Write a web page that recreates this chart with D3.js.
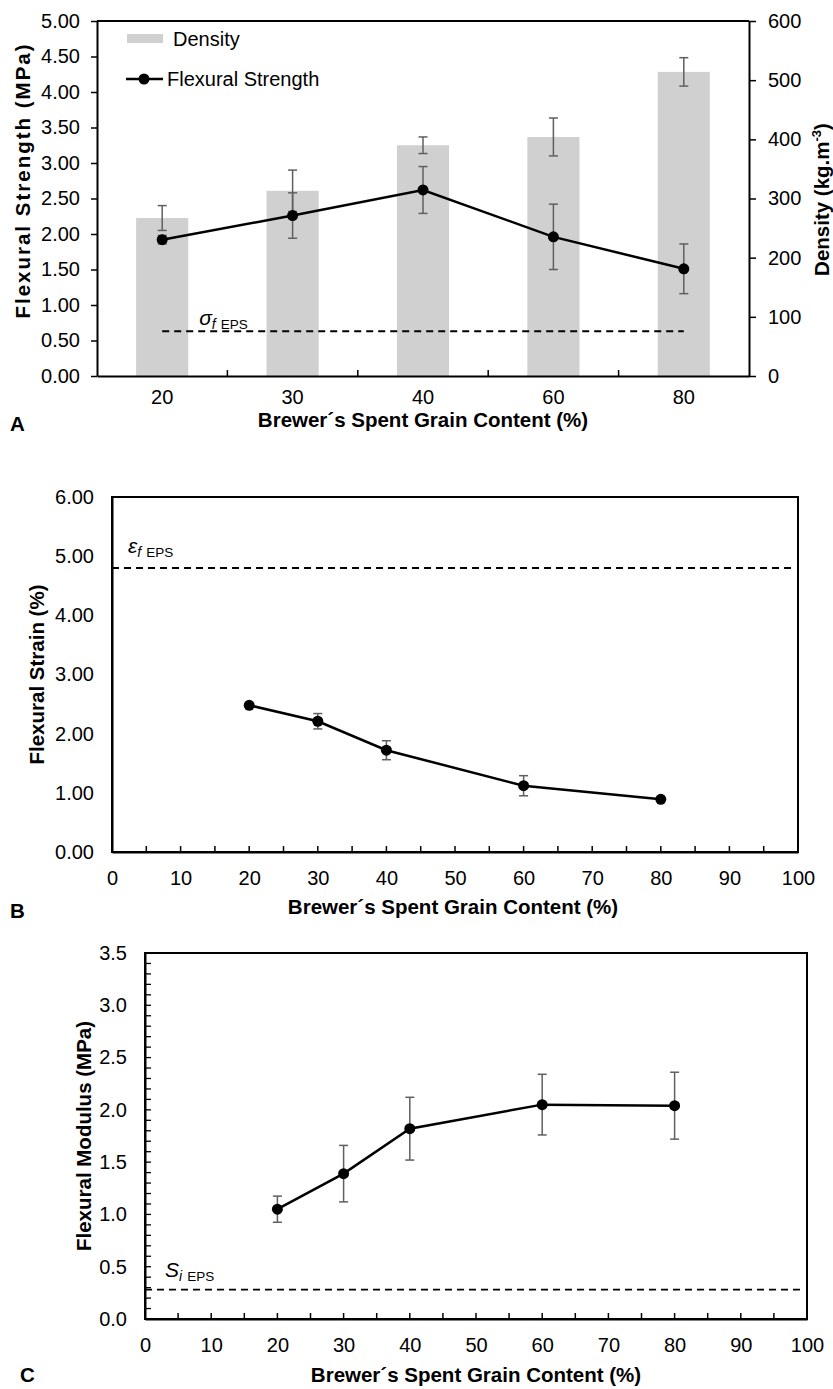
<!DOCTYPE html>
<html>
<head>
<meta charset="utf-8">
<script src="https://cdn.jsdelivr.net/npm/d3@7"></script>
<style>
  body { margin: 0; background: #fff; }
  svg { display: block; font-family: Arial, "Liberation Sans", sans-serif; }
  .axis path, .axis line { stroke: #000; }
  .axis text { fill: #000; font-size: 20px; font-family: Arial, "Liberation Sans", sans-serif; }
  .title { font-weight: bold; font-size: 20.5px; fill: #000; }
</style>
</head>
<body>
<svg id="fig" width="833" height="1389"></svg>
<script>
// panel A data
const categoriesA = ['20', '30', '40', '60', '80']
const densityA = [267, 313, 390, 404, 514]
const densityErrA = [21, 35, 14, 32, 24]
const strengthA = [1.92, 2.26, 2.62, 1.96, 1.51]
const strengthErrA = [0.06, 0.32, 0.33, 0.46, 0.35]
const sigmaEpsA = 0.63
const ticksLeftA = [0, 0.5, 1, 1.5, 2, 2.5, 3, 3.5, 4, 4.5, 5]
const ticksRightA = [0, 100, 200, 300, 400, 500, 600]

// panel B and C data
const contentBC = [20, 30, 40, 60, 80]
const strainB = [2.48, 2.21, 1.72, 1.12, 0.89]
const strainErrB = [0.03, 0.13, 0.16, 0.17, 0.03]
const epsEpsB = 4.80
const ticksYB = [0, 1, 2, 3, 4, 5, 6]
const modulusC = [1.05, 1.39, 1.82, 2.05, 2.04]
const modulusErrC = [0.125, 0.27, 0.30, 0.29, 0.32]
const siEpsC = 0.28
const ticksYC = [0, 0.5, 1, 1.5, 2, 2.5, 3, 3.5]
const ticksX = [0, 10, 20, 30, 40, 50, 60, 70, 80, 90, 100]

const svg = d3.select('#fig')
const ERR = '#5f5f5f'
const CAP = 4.5

function errorBars(g, xs, ys, errs, y) {
  xs.forEach((x, i) => {
    const lo = y(ys[i] - errs[i]), hi = y(ys[i] + errs[i])
    g.append('line').attr('x1', x).attr('x2', x).attr('y1', lo).attr('y2', hi)
      .attr('stroke', ERR).attr('stroke-width', 1.5)
    ;[lo, hi].forEach(v => g.append('line')
      .attr('x1', x - CAP).attr('x2', x + CAP).attr('y1', v).attr('y2', v)
      .attr('stroke', ERR).attr('stroke-width', 1.5))
  })
}

function seriesLine(g, xs, ys, y) {
  const pts = xs.map((x, i) => [x, y(ys[i])])
  g.append('path').attr('d', d3.line()(pts))
    .attr('fill', 'none').attr('stroke', '#000').attr('stroke-width', 2.5)
  g.selectAll(null).data(pts).enter().append('circle')
    .attr('cx', d => d[0]).attr('cy', d => d[1]).attr('r', 5.5).attr('fill', '#000')
}

function epsLabel(g, x, y, main, sub, font) {
  const t = g.append('text').attr('x', x).attr('y', y).attr('fill', '#000')
  t.append('tspan').text(main).attr('font-style', 'italic').attr('font-size', font)
  t.append('tspan').text(sub).attr('font-style', 'italic').attr('font-size', 14).attr('dy', 4)
  t.append('tspan').text('EPS').attr('font-size', 13.5).attr('dx', 5)
}

function dashed(g, x1, x2, yv) {
  g.append('line').attr('x1', x1).attr('x2', x2).attr('y1', yv).attr('y2', yv)
    .attr('stroke', '#000').attr('stroke-width', 1.8).attr('stroke-dasharray', '7,5')
}

function xLabelsBaseline(axisG, dist) {
  axisG.selectAll('text').attr('y', dist).attr('dy', 0)
}

// ---------------- Panel A ----------------
;(function() {
  const L = 97, R = 749, T = 21, B = 376
  const g = svg.append('g')
  const x = d3.scaleBand().domain(categoriesA).range([L, R])
  const yL = d3.scaleLinear().domain([0, 5]).range([B, T])
  const yR = d3.scaleLinear().domain([0, 600]).range([B, T])
  const barW = x.bandwidth() * 0.4
  const cx = categoriesA.map(c => x(c) + x.bandwidth() / 2)

  g.selectAll('rect.bar').data(densityA).enter().append('rect')
    .attr('class', 'bar')
    .attr('x', (d, i) => cx[i] - barW / 2).attr('width', barW)
    .attr('y', d => yR(d)).attr('height', d => B - yR(d))
    .attr('fill', '#d0d0d0')

  errorBars(g, cx, densityA, densityErrA, yR)
  dashed(g, cx[0], cx[cx.length - 1], yL(sigmaEpsA))
  errorBars(g, cx, strengthA, strengthErrA, yL)
  seriesLine(g, cx, strengthA, yL)

  // category boundary ticks
  g.selectAll('line.bt').data(categoriesA.slice(1)).enter().append('line')
    .attr('x1', d => x(d)).attr('x2', d => x(d)).attr('y1', B).attr('y2', B - 6)
    .attr('stroke', '#000').attr('stroke-width', 1.5)

  g.append('line').attr('x1', L).attr('x2', R).attr('y1', T).attr('y2', T)
    .attr('stroke', '#000').attr('stroke-width', 2)

  const ax = g.append('g').attr('class', 'axis').attr('transform', `translate(0,${B})`)
    .call(d3.axisBottom(x).tickSize(0).tickSizeOuter(0))
  ax.select('.domain').attr('stroke-width', 2)
  xLabelsBaseline(ax, 28)

  const al = g.append('g').attr('class', 'axis').attr('transform', `translate(${L},0)`)
    .call(d3.axisLeft(yL).tickValues(ticksLeftA).tickFormat(d3.format('.2f'))
      .tickSize(6).tickSizeOuter(0).tickPadding(11))
  al.select('.domain').attr('stroke-width', 2)
  al.selectAll('line').attr('stroke-width', 1.5)

  const ar = g.append('g').attr('class', 'axis').attr('transform', `translate(${R},0)`)
    .call(d3.axisRight(yR).tickValues(ticksRightA).tickFormat(d3.format('d'))
      .tickSize(7).tickSizeOuter(0).tickPadding(12))
  ar.select('.domain').attr('stroke-width', 2)
  ar.selectAll('line').attr('stroke-width', 1.5)

  epsLabel(g, cx[0] + 37, yL(sigmaEpsA) - 6, 'σ', 'f', 21)

  // legend
  g.append('rect').attr('x', L + 30).attr('y', 34).attr('width', 36).attr('height', 9).attr('fill', '#d0d0d0')
  g.append('text').attr('x', L + 76).attr('y', 46).attr('font-size', 20).text('Density')
  g.append('line').attr('x1', L + 29).attr('x2', L + 66).attr('y1', 79).attr('y2', 79)
    .attr('stroke', '#000').attr('stroke-width', 2.5)
  g.append('circle').attr('cx', L + 47).attr('cy', 79).attr('r', 5.5).attr('fill', '#000')
  g.append('text').attr('x', L + 70).attr('y', 86).attr('font-size', 20).text('Flexural Strength')

  g.append('text').attr('class', 'title').attr('text-anchor', 'middle')
    .attr('letter-spacing', 2)
    .attr('transform', `translate(30,${(T + B) / 2 - 18}) rotate(-90)`)
    .text('Flexural Strength (MPa)')
  const dt = g.append('text').attr('class', 'title').attr('text-anchor', 'middle')
    .attr('transform', `translate(829,${(T + B) / 2 + 1}) rotate(-90)`)
  dt.append('tspan').text('Density (kg.m')
  dt.append('tspan').text('-3').attr('font-size', 13).attr('dy', -8)
  dt.append('tspan').text(')').attr('dy', 8)

  g.append('text').attr('class', 'title').attr('text-anchor', 'middle')
    .attr('x', (L + R) / 2).attr('y', 427).text('Brewer´s Spent Grain Content (%)')
  g.append('text').attr('class', 'title').attr('x', 10).attr('y', 431).text('A')
})()

// ---------------- Panel B ----------------
;(function() {
  const L = 112, R = 798, T = 497, B = 852
  const g = svg.append('g')
  const x = d3.scaleLinear().domain([0, 100]).range([L, R])
  const y = d3.scaleLinear().domain([0, 6]).range([B, T])
  const xs = contentBC.map(d => x(d))

  g.append('rect').attr('x', L).attr('y', T).attr('width', R - L).attr('height', B - T)
    .attr('fill', 'none').attr('stroke', '#000').attr('stroke-width', 2)

  dashed(g, x(0), x(99.2), y(epsEpsB))
  errorBars(g, xs, strainB, strainErrB, y)
  seriesLine(g, xs, strainB, y)

  const ax = g.append('g').attr('class', 'axis').attr('transform', `translate(0,${B})`)
    .call(d3.axisBottom(x).tickValues(ticksX).tickSize(0).tickSizeOuter(0))
  ax.select('.domain').attr('stroke-width', 2)
  xLabelsBaseline(ax, 33)
  g.selectAll('line.mt').data(d3.range(5, 100, 5)).enter().append('line')
    .attr('x1', d => x(d)).attr('x2', d => x(d)).attr('y1', B).attr('y2', B - 6)
    .attr('stroke', '#000').attr('stroke-width', 1.5)

  const ay = g.append('g').attr('class', 'axis').attr('transform', `translate(${L},0)`)
    .call(d3.axisLeft(y).tickValues(ticksYB).tickFormat(d3.format('.2f'))
      .tickSize(0).tickSizeOuter(0).tickPadding(18))
  ay.select('.domain').attr('stroke-width', 2)

  epsLabel(g, x(0) + 16, y(epsEpsB) - 15, 'ε', 'f', 21)

  g.append('text').attr('class', 'title').attr('text-anchor', 'middle')
    .attr('transform', `translate(44,${(T + B) / 2}) rotate(-90)`)
    .text('Flexural Strain (%)')
  g.append('text').attr('class', 'title').attr('text-anchor', 'middle')
    .attr('x', 453).attr('y', 914).text('Brewer´s Spent Grain Content (%)')
  g.append('text').attr('class', 'title').attr('x', 10).attr('y', 918).text('B')
})()

// ---------------- Panel C ----------------
;(function() {
  const L = 145, R = 807, T = 953, B = 1319
  const g = svg.append('g')
  const x = d3.scaleLinear().domain([0, 100]).range([L, R])
  const y = d3.scaleLinear().domain([0, 3.5]).range([B, T])
  const xs = contentBC.map(d => x(d))

  g.append('rect').attr('x', L).attr('y', T).attr('width', R - L).attr('height', B - T)
    .attr('fill', 'none').attr('stroke', '#000').attr('stroke-width', 2)

  dashed(g, x(0), x(99.5), y(siEpsC))
  errorBars(g, xs, modulusC, modulusErrC, y)
  seriesLine(g, xs, modulusC, y)

  const ax = g.append('g').attr('class', 'axis').attr('transform', `translate(0,${B})`)
    .call(d3.axisBottom(x).tickValues(ticksX).tickSize(0).tickSizeOuter(0))
  ax.select('.domain').attr('stroke-width', 2)
  xLabelsBaseline(ax, 33)
  g.selectAll('line.mt').data(d3.range(5, 100, 5)).enter().append('line')
    .attr('x1', d => x(d)).attr('x2', d => x(d)).attr('y1', B).attr('y2', B - 6)
    .attr('stroke', '#000').attr('stroke-width', 1.5)

  // minor y ticks every 0.1, inside
  g.selectAll('line.yt').data(d3.range(0.1, 3.5, 0.1)).enter().append('line')
    .attr('x1', L).attr('x2', L + 6).attr('y1', d => y(d)).attr('y2', d => y(d))
    .attr('stroke', '#000').attr('stroke-width', 1.3)

  const ay = g.append('g').attr('class', 'axis').attr('transform', `translate(${L},0)`)
    .call(d3.axisLeft(y).tickValues(ticksYC).tickFormat(d3.format('.1f'))
      .tickSize(0).tickSizeOuter(0).tickPadding(18))
  ay.select('.domain').attr('stroke-width', 2)

  epsLabel(g, x(0) + 20, y(siEpsC) - 13, 'S', 'i', 21)

  g.append('text').attr('class', 'title').attr('text-anchor', 'middle')
    .attr('transform', `translate(91,${(T + B) / 2}) rotate(-90)`)
    .text('Flexural Modulus (MPa)')
  g.append('text').attr('class', 'title').attr('text-anchor', 'middle')
    .attr('x', 476).attr('y', 1382).text('Brewer´s Spent Grain Content (%)')
  g.append('text').attr('class', 'title').attr('x', 20).attr('y', 1382).text('C')
})()
</script>
</body>
</html>
